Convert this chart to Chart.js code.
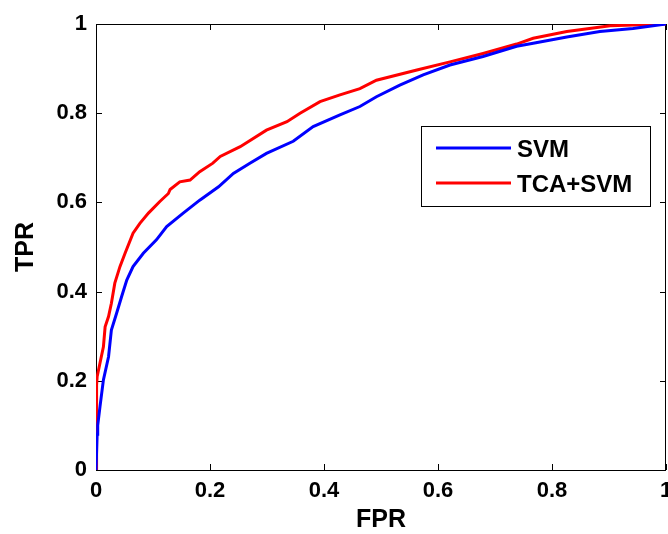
<!DOCTYPE html>
<html>
<head>
<meta charset="utf-8">
<script src="https://cdn.jsdelivr.net/npm/chart.js@4.4.1/dist/chart.umd.min.js"></script>
<style>
  html, body { margin: 0; padding: 0; background: #fff; }
  #wrap { width: 668px; height: 534px; }
</style>
</head>
<body>
<div id="wrap"><canvas id="roc"></canvas></div>
<script>
const svmFpr = [0, 0.002, 0.003, 0.007, 0.013, 0.022, 0.027, 0.036, 0.045, 0.054, 0.065, 0.083, 0.106, 0.124, 0.153, 0.182, 0.215, 0.241, 0.270, 0.299, 0.346, 0.381, 0.428, 0.463, 0.492, 0.533, 0.574, 0.621, 0.679, 0.738, 0.767, 0.826, 0.884, 0.942, 1.0]
const svmTpr = [0, 0.08, 0.10, 0.142, 0.202, 0.254, 0.314, 0.351, 0.389, 0.426, 0.456, 0.486, 0.516, 0.546, 0.576, 0.605, 0.635, 0.665, 0.688, 0.710, 0.737, 0.770, 0.796, 0.815, 0.837, 0.863, 0.886, 0.908, 0.927, 0.950, 0.957, 0.971, 0.983, 0.990, 1.0]

const tcaFpr = [0, 0.001, 0.002, 0.007, 0.013, 0.016, 0.022, 0.027, 0.033, 0.042, 0.051, 0.065, 0.077, 0.092, 0.112, 0.127, 0.130, 0.147, 0.165, 0.182, 0.205, 0.218, 0.253, 0.299, 0.335, 0.358, 0.393, 0.428, 0.463, 0.492, 0.563, 0.621, 0.679, 0.738, 0.767, 0.826, 0.902, 1.0]
const tcaTpr = [0, 0.19, 0.209, 0.24, 0.276, 0.321, 0.344, 0.374, 0.419, 0.456, 0.486, 0.531, 0.553, 0.576, 0.602, 0.620, 0.629, 0.646, 0.650, 0.669, 0.688, 0.703, 0.725, 0.762, 0.781, 0.800, 0.826, 0.841, 0.855, 0.874, 0.897, 0.915, 0.934, 0.955, 0.968, 0.983, 0.996, 1.0]

const seriesNames = ['SVM', 'TCA+SVM']
const seriesColors = ['#0000ff', '#ff0000']

const toPoints = (xs, ys) => xs.map((x, i) => ({ x: x, y: ys[i] }))
const fmtTick = v => String(+v.toFixed(1))

const FONT = '"Liberation Sans", Arial, sans-serif'
const TICK_LEN = 6

// frame + inward ticks, MATLAB style
const axesBox = {
    id: 'axesBox',
    beforeDatasetsDraw(chart) {
        const { ctx, chartArea: a, scales } = chart
        ctx.save()
        ctx.strokeStyle = '#000'
        ctx.lineWidth = 1
        ctx.strokeRect(a.left + 0.5, a.top + 0.5, a.right - a.left - 1, a.bottom - a.top)
        ctx.beginPath()
        scales.x.ticks.forEach(t => {
            const px = Math.round(scales.x.getPixelForValue(t.value)) + 0.5
            ctx.moveTo(px, a.bottom); ctx.lineTo(px, a.bottom - TICK_LEN)
            ctx.moveTo(px, a.top); ctx.lineTo(px, a.top + TICK_LEN)
        })
        scales.y.ticks.forEach(t => {
            const py = Math.round(scales.y.getPixelForValue(t.value)) + 0.5
            ctx.moveTo(a.left, py); ctx.lineTo(a.left + TICK_LEN, py)
            ctx.moveTo(a.right, py); ctx.lineTo(a.right - TICK_LEN, py)
        })
        ctx.stroke()
        ctx.restore()
    }
}

const boxLegend = {
    id: 'boxLegend',
    afterDraw(chart) {
        const { ctx } = chart
        ctx.save()
        ctx.fillStyle = '#fff'
        ctx.fillRect(421, 126, 230, 81)
        ctx.strokeStyle = '#000'
        ctx.lineWidth = 1
        ctx.strokeRect(421.5, 126.5, 229, 80)
        const rows = [148, 183]
        chart.data.datasets.forEach((ds, i) => {
            ctx.strokeStyle = ds.borderColor
            ctx.lineWidth = 3
            ctx.beginPath()
            ctx.moveTo(436, rows[i]); ctx.lineTo(511, rows[i])
            ctx.stroke()
            ctx.fillStyle = '#000'
            ctx.font = 'bold 24px ' + FONT
            ctx.textBaseline = 'middle'
            ctx.textAlign = 'left'
            ctx.fillText(ds.label, 517, rows[i] + 2)
        })
        ctx.restore()
    }
}

const ctx = document.getElementById('roc').getContext('2d')
const rocChart = new Chart(ctx, {
    type: 'line',
    data: {
        datasets: [
            {
                label: seriesNames[0],
                data: toPoints(svmFpr, svmTpr),
                borderColor: seriesColors[0],
                borderWidth: 3,
                pointRadius: 0,
                tension: 0
            },
            {
                label: seriesNames[1],
                data: toPoints(tcaFpr, tcaTpr),
                borderColor: seriesColors[1],
                borderWidth: 3,
                pointRadius: 0,
                tension: 0
            }
        ]
    },
    options: {
        responsive: true,
        maintainAspectRatio: false,
        animation: false,
        layout: { padding: { top: 24, right: 2, left: 0, bottom: 0 } },
        plugins: {
            legend: { display: false },
            tooltip: { enabled: false }
        },
        scales: {
            x: {
                type: 'linear',
                min: 0,
                max: 1,
                grid: { display: false, drawTicks: false },
                border: { display: false },
                ticks: {
                    stepSize: 0.2,
                    padding: 8,
                    color: '#000',
                    maxRotation: 0,
                    callback: fmtTick,
                    font: { family: FONT, size: 22, weight: 'bold' }
                },
                title: {
                    display: true,
                    text: 'FPR',
                    color: '#000',
                    padding: { top: 0, bottom: 1 },
                    font: { family: FONT, size: 25, weight: 'bold', lineHeight: 1 }
                },
                afterFit: s => { s.height = 64; s.paddingLeft = 0; s.paddingRight = 0 }
            },
            y: {
                type: 'linear',
                min: 0,
                max: 1,
                grid: { display: false, drawTicks: false },
                border: { display: false },
                ticks: {
                    stepSize: 0.2,
                    padding: 9,
                    color: '#000',
                    callback: fmtTick,
                    font: { family: FONT, size: 22, weight: 'bold' }
                },
                title: {
                    display: true,
                    text: 'TPR',
                    color: '#000',
                    padding: { top: 14, bottom: 0 },
                    font: { family: FONT, size: 25, weight: 'bold', lineHeight: 1 }
                },
                afterFit: s => { s.width = 96; s.paddingTop = 0; s.paddingBottom = 0 }
            }
        }
    },
    plugins: [axesBox, boxLegend]
})
</script>
</body>
</html>
